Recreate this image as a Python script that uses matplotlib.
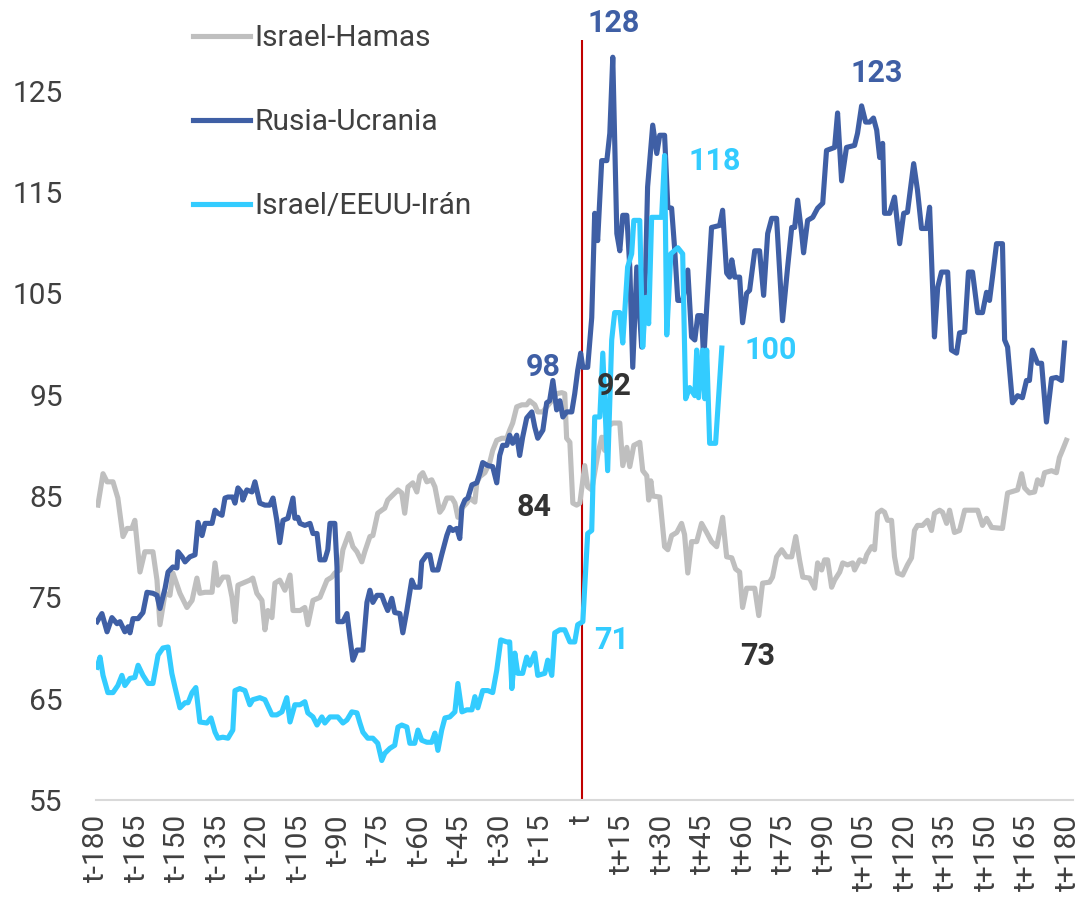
import numpy as np
import matplotlib
matplotlib.use("Agg")
import matplotlib.pyplot as plt

plt.rcParams['font.family'] = ['Roboto', 'DejaVu Sans']

# Datos (dias respecto a t, indice)
hamas_x = [-179.3, -177.4, -175.9, -173.7, -171.9, -170.0, -168.5, -166.7, -165.6, -163.7,
           -161.9, -158.9, -157.4, -156.3, -154.4, -152.6, -151.5, -148.9, -146.3, -144.4,
           -142.6, -141.5, -139.6, -137.0, -135.9, -134.8, -133.0, -131.1, -129.6, -128.5,
           -127.4, -124.8, -123.0, -121.9, -120.4, -118.5, -117.4, -116.3, -114.8, -113.7,
           -111.9, -110.0, -108.1, -107.0, -104.4, -102.6, -101.5, -99.6, -97.0, -94.4,
           -92.6, -91.5, -89.6, -88.5, -86.3, -84.8, -83.3, -81.5, -80.4, -78.5,
           -77.4, -75.6, -74.1, -73.0, -71.9, -70.0, -68.1, -66.7, -65.6, -64.4,
           -62.6, -61.1, -60.0, -58.9, -57.4, -55.6, -54.4, -52.6, -51.5, -50.0,
           -48.1, -47.0, -45.9, -44.4, -42.6, -41.5, -39.6, -38.9, -37.8, -35.9,
           -34.1, -33.0, -31.5, -29.6, -27.8, -26.7, -25.6, -24.1, -22.2, -20.4,
           -19.3, -17.4, -16.3, -14.4, -13.0, -11.1, -9.3, -7.4, -6.3, -5.6,
           -4.4, -3.3, -1.9, -0.7, 1.1, 2.2, 3.7, 5.9, 7.4, 8.5,
           9.3, 11.5, 14.1, 15.2, 16.7, 17.8, 19.3, 21.5, 22.6, 24.1,
           24.8, 25.6, 26.3, 28.9, 30.7, 31.9, 33.3, 35.2, 37.0, 38.1,
           39.3, 40.7, 42.6, 44.4, 46.3, 48.1, 50.0, 52.2, 53.7, 55.6,
           57.0, 58.5, 59.6, 61.1, 64.1, 65.6, 67.0, 69.6, 70.7, 72.2,
           74.1, 75.9, 77.8, 79.3, 80.7, 81.9, 84.4, 86.3, 87.4, 88.9,
           90.0, 91.1, 92.6, 93.7, 95.6, 96.7, 98.5, 100.4, 101.1, 103.0,
           104.8, 105.6, 107.4, 108.5, 109.6, 111.1, 112.2, 113.3, 114.8, 115.9,
           117.0, 118.9, 120.7, 122.2, 123.3, 124.4, 126.3, 128.1, 129.6, 130.7,
           132.6, 133.7, 135.2, 136.3, 138.1, 140.0, 141.9, 146.7, 148.5, 150.0,
           151.9, 155.9, 157.8, 161.5, 163.0, 164.1, 165.9, 167.8, 168.9, 170.4,
           171.5, 174.1, 175.9, 177.0, 178.1, 179.6]
hamas_y = [84.1, 87.2, 86.4, 86.4, 84.8, 81.0, 81.8, 81.8, 82.6, 77.5,
           79.5, 79.5, 76.7, 72.3, 75.4, 75.2, 77.4, 75.4, 74.0, 74.7,
           76.9, 75.4, 75.5, 75.5, 78.4, 76.2, 77.0, 77.0, 75.0, 72.6,
           76.2, 76.5, 76.7, 76.9, 75.4, 74.7, 71.8, 73.7, 73.0, 76.4,
           76.7, 75.7, 77.2, 73.7, 73.7, 74.0, 72.3, 74.7, 75.0, 76.7,
           77.0, 77.4, 77.7, 79.7, 81.3, 80.0, 79.5, 78.5, 79.5, 81.0,
           81.1, 83.3, 83.6, 83.8, 84.6, 85.1, 85.6, 85.3, 83.3, 85.9,
           86.3, 85.4, 87.0, 87.3, 86.4, 86.6, 85.9, 83.4, 83.8, 84.8,
           84.8, 84.3, 82.9, 83.8, 84.3, 84.8, 84.4, 86.3, 86.9, 87.3,
           88.3, 89.5, 90.5, 90.7, 90.7, 91.5, 92.2, 93.8, 94.0, 94.0,
           94.4, 94.0, 93.3, 93.3, 93.8, 94.4, 95.1, 95.2, 95.1, 90.7,
           90.3, 84.3, 84.1, 84.3, 88.0, 85.9, 85.6, 89.0, 90.8, 89.5,
           91.8, 92.2, 92.2, 88.0, 89.8, 87.9, 90.0, 90.3, 87.5, 87.0,
           84.6, 86.5, 85.0, 84.9, 80.0, 79.7, 81.1, 81.4, 82.3, 81.2,
           77.4, 80.5, 80.5, 82.3, 81.4, 80.5, 80.0, 82.9, 79.0, 78.9,
           77.8, 77.5, 74.0, 75.9, 75.9, 73.2, 76.4, 76.5, 77.0, 79.0,
           79.7, 79.0, 79.0, 81.0, 78.7, 77.0, 76.9, 75.9, 78.4, 77.7,
           78.7, 78.7, 76.0, 76.7, 77.5, 78.4, 78.2, 78.4, 77.7, 78.7,
           78.5, 79.2, 80.0, 79.7, 83.3, 83.6, 83.4, 82.6, 82.6, 79.0,
           77.4, 77.2, 78.2, 78.9, 81.6, 82.1, 82.1, 82.6, 81.6, 83.3,
           83.6, 83.4, 82.3, 83.6, 81.4, 81.6, 83.6, 83.6, 82.1, 82.8,
           81.9, 81.8, 85.3, 85.6, 87.2, 85.8, 85.3, 85.4, 86.6, 86.1,
           87.3, 87.5, 87.3, 88.8, 89.5, 90.5]

rusia_x = [-179.6, -177.8, -175.9, -174.1, -172.2, -171.1, -169.3, -168.1, -167.4, -166.3,
           -164.4, -162.6, -161.1, -158.9, -157.4, -156.3, -154.4, -153.3, -151.5, -150.0,
           -149.6, -148.1, -147.0, -145.2, -143.3, -142.2, -140.7, -139.6, -137.0, -135.9,
           -134.8, -133.3, -132.2, -131.1, -129.3, -128.5, -127.4, -125.9, -125.6, -124.1,
           -122.2, -121.1, -119.3, -117.4, -115.6, -114.4, -113.0, -111.9, -110.7, -108.9,
           -107.0, -106.3, -105.2, -104.4, -102.6, -100.7, -99.6, -98.1, -97.0, -95.2,
           -94.1, -93.3, -91.5, -90.7, -90.4, -88.5, -87.0, -85.9, -84.8, -83.3,
           -81.1, -79.6, -78.5, -77.4, -75.9, -74.1, -73.0, -71.9, -70.4, -69.3,
           -67.4, -66.3, -64.8, -63.0, -61.9, -60.0, -59.3, -57.4, -56.3, -55.2,
           -53.3, -51.9, -50.0, -48.9, -47.8, -46.3, -45.2, -44.4, -43.3, -42.2,
           -40.7, -38.9, -37.8, -36.7, -34.8, -33.0, -31.5, -30.4, -29.3, -27.8,
           -26.7, -25.6, -24.1, -23.0, -21.9, -20.4, -18.5, -17.4, -16.3, -14.4,
           -13.0, -11.9, -10.7, -9.3, -8.1, -7.0, -5.6, -3.7, -2.6, -1.5,
           -0.4, 0.4, 2.2, 3.7, 4.8, 5.9, 7.4, 9.3, 10.4, 11.5,
           13.0, 14.1, 15.2, 16.7, 17.8, 18.9, 20.4, 22.2, 23.7, 24.4,
           26.3, 27.8, 28.9, 30.7, 31.9, 33.3, 34.4, 35.6, 37.4, 39.3,
           40.7, 41.9, 43.0, 44.4, 45.2, 46.3, 48.1, 51.1, 52.2, 53.7,
           54.8, 55.6, 56.7, 58.5, 59.6, 61.1, 62.2, 64.1, 65.9, 67.4,
           68.9, 70.4, 72.2, 74.4, 76.3, 77.8, 78.9, 80.0, 81.5, 82.2,
           83.7, 85.6, 87.4, 89.3, 90.7, 93.7, 94.8, 96.3, 98.1, 101.1,
           102.2, 103.7, 105.2, 106.7, 108.1, 109.3, 110.4, 111.5, 112.2, 114.1,
           115.9, 117.8, 119.3, 120.7, 123.0, 124.4, 125.9, 127.8, 128.9, 130.7,
           131.9, 133.3, 135.6, 137.0, 138.9, 140.0, 141.9, 143.3, 144.8, 146.7,
           148.5, 150.0, 151.1, 152.2, 153.7, 155.9, 156.7, 157.8, 159.6, 161.5,
           163.3, 164.8, 165.9, 167.0, 168.9, 170.4, 172.2, 174.1, 175.9, 177.8,
           178.9]
rusia_y = [72.6, 73.4, 71.6, 73.0, 72.4, 72.6, 71.6, 72.1, 71.5, 72.9,
           72.9, 73.5, 75.5, 75.4, 75.2, 73.9, 75.9, 77.5, 78.0, 77.9,
           79.5, 79.0, 78.5, 79.0, 79.2, 82.4, 81.1, 82.3, 82.3, 83.6,
           83.3, 83.1, 84.8, 84.9, 84.9, 84.3, 85.8, 85.3, 84.6, 85.6,
           85.4, 86.4, 84.3, 84.1, 84.1, 84.8, 82.6, 80.4, 82.6, 82.8,
           84.8, 82.8, 82.9, 82.3, 82.1, 82.3, 81.3, 81.3, 78.7, 78.7,
           79.7, 82.3, 82.3, 78.0, 72.6, 72.6, 73.4, 71.0, 68.8, 69.8,
           69.8, 74.5, 75.7, 74.5, 75.2, 75.2, 74.4, 73.7, 74.9, 73.5,
           73.4, 71.5, 73.7, 76.7, 76.0, 76.0, 78.5, 79.2, 79.2, 77.7,
           77.7, 79.2, 81.1, 81.9, 81.6, 81.8, 80.8, 83.9, 84.6, 84.8,
           86.1, 86.3, 87.2, 88.3, 88.0, 87.9, 86.3, 89.0, 90.0, 90.0,
           91.0, 90.2, 91.0, 89.0, 90.8, 92.7, 93.3, 91.8, 90.7, 91.5,
           94.2, 94.4, 96.4, 93.5, 94.4, 92.8, 93.3, 93.3, 95.1, 97.4,
           99.1, 97.7, 97.7, 102.6, 112.9, 110.2, 118.1, 118.1, 120.8, 128.3,
           110.9, 109.2, 112.7, 112.7, 107.6, 97.7, 107.6, 99.7, 107.6, 115.5,
           121.6, 118.8, 120.6, 120.6, 113.5, 113.4, 109.5, 104.3, 104.3, 107.3,
           100.7, 100.4, 102.8, 102.8, 98.4, 103.6, 111.5, 111.7, 113.2, 107.0,
           106.6, 108.3, 106.6, 106.6, 102.1, 105.0, 105.3, 109.2, 109.2, 104.8,
           110.9, 112.4, 112.4, 102.3, 107.6, 111.5, 111.5, 114.2, 110.9, 109.0,
           112.2, 112.5, 113.4, 113.9, 119.1, 119.4, 122.8, 116.1, 119.4, 119.6,
           120.8, 123.5, 121.9, 121.9, 122.3, 121.1, 118.4, 119.8, 112.9, 112.9,
           114.5, 109.9, 112.9, 113.0, 117.8, 115.2, 111.4, 111.4, 113.5, 100.7,
           105.6, 107.1, 107.1, 99.4, 99.1, 101.1, 101.2, 107.1, 107.1, 103.1,
           103.1, 105.1, 104.3, 106.6, 109.9, 109.9, 100.4, 99.7, 94.2, 94.9,
           94.7, 96.4, 96.4, 99.4, 98.1, 98.1, 92.3, 96.6, 96.7, 96.4,
           100.1]

iran_x = [-179.6, -178.5, -177.4, -175.6, -173.7, -171.9, -170.4, -169.3, -167.4, -165.6,
          -164.4, -162.6, -160.7, -158.9, -157.0, -155.2, -153.3, -151.9, -150.7, -148.9,
          -147.0, -145.9, -144.4, -143.0, -141.5, -138.9, -137.4, -135.9, -134.8, -133.0,
          -131.1, -129.3, -128.5, -126.7, -124.8, -123.0, -121.9, -119.3, -117.4, -114.8,
          -113.0, -111.1, -109.3, -108.1, -106.3, -104.4, -102.6, -101.5, -99.6, -98.1,
          -96.3, -95.2, -93.3, -90.4, -88.5, -87.0, -85.2, -83.3, -82.2, -81.1,
          -79.3, -77.4, -75.6, -74.1, -73.0, -71.1, -69.3, -68.1, -66.7, -64.8,
          -63.7, -61.9, -60.7, -59.3, -57.4, -55.6, -54.4, -53.3, -51.9, -50.7,
          -48.9, -47.0, -45.9, -44.4, -42.6, -40.7, -39.6, -38.5, -36.7, -34.8,
          -33.0, -31.5, -30.0, -27.8, -26.7, -25.9, -24.8, -23.7, -21.9, -20.4,
          -19.3, -17.4, -16.3, -13.7, -12.6, -11.1, -10.0, -8.1, -6.3, -4.4,
          -2.6, -1.5, 0.4, 2.2, 3.7, 4.8, 6.7, 7.8, 9.6, 11.1,
          12.2, 14.1, 15.2, 17.0, 18.5, 19.3, 21.5, 22.6, 23.7, 24.8,
          25.9, 29.6, 30.7, 31.5, 33.0, 35.6, 37.4, 38.5, 40.0, 41.9,
          42.6, 43.3, 44.8, 45.6, 46.3, 47.4, 49.6, 51.9]
iran_y = [68.1, 69.1, 67.3, 65.6, 65.6, 66.3, 67.3, 66.3, 67.0, 67.1,
          68.3, 67.3, 66.5, 66.5, 69.3, 70.0, 70.1, 67.5, 66.1, 64.1,
          64.6, 64.6, 65.6, 66.1, 62.7, 62.6, 63.1, 61.7, 61.1, 61.2,
          61.1, 61.9, 65.8, 66.0, 65.8, 64.4, 64.9, 65.1, 64.9, 63.4,
          63.4, 63.7, 65.1, 62.7, 64.4, 64.4, 64.7, 63.6, 63.2, 62.4,
          63.2, 62.6, 63.2, 63.2, 62.6, 62.9, 63.7, 63.6, 62.6, 61.7,
          61.1, 61.1, 60.6, 58.9, 59.6, 60.1, 60.4, 62.2, 62.4, 62.2,
          60.6, 60.6, 61.9, 60.9, 60.7, 60.7, 61.6, 59.9, 61.9, 63.1,
          63.2, 63.7, 66.5, 63.7, 63.9, 63.9, 65.2, 64.1, 65.8, 65.8,
          65.6, 67.8, 70.8, 70.6, 70.6, 66.0, 69.5, 67.5, 67.5, 69.1,
          68.3, 69.5, 67.3, 67.5, 68.8, 67.3, 71.5, 71.8, 71.8, 70.6,
          70.6, 72.3, 72.6, 81.3, 81.6, 92.8, 92.8, 99.1, 87.5, 100.4,
          103.1, 103.1, 100.1, 107.6, 108.9, 112.2, 112.2, 99.7, 104.6, 102.0,
          112.5, 112.5, 118.6, 100.9, 108.9, 109.5, 108.9, 94.6, 95.7, 94.9,
          99.4, 94.7, 99.4, 94.6, 99.4, 90.2, 90.2, 99.6]

tick_pos = list(range(-180, 181, 15))
tick_lab = ["t" if p == 0 else f"t{p:+d}" for p in tick_pos]

gray = "#BFBFBF"
blue = "#3F5FA5"
cyan = "#33CCFF"
dark = "#333333"

fig = plt.figure(figsize=(10.81, 9.05), dpi=100)
ax = fig.add_axes([0.0888, 0.116, 0.9037, 0.8398])

ax.plot(hamas_x, hamas_y, color=gray, lw=3.7, label="Israel-Hamas", solid_joinstyle="round")
ax.plot(rusia_x, rusia_y, color=blue, lw=3.7, label="Rusia-Ucrania", solid_joinstyle="round")
ax.plot(iran_x, iran_y, color=cyan, lw=3.7, label="Israel/EEUU-Irán", solid_joinstyle="round")
ax.axvline(0, color="#C00000", lw=1.5, zorder=1)

ax.set_xlim(-180, 182)
ax.set_ylim(55, 130)
ax.set_yticks(range(55, 126, 10))
ax.set_xticks(tick_pos)
ax.set_xticklabels(tick_lab, rotation=90)
ax.tick_params(axis="both", length=0, labelsize=21.5, labelcolor="#404040")
ax.tick_params(axis="y", pad=24)
ax.tick_params(axis="x", pad=10)
for s in ["top", "right", "left"]:
    ax.spines[s].set_visible(False)
ax.spines["bottom"].set_color("#D9D9D9")
ax.spines["bottom"].set_linewidth(1.5)

# etiquetas de valores
notes = [("128", 11.9, 131.7, blue), ("123", 109.3, 126.7, blue), ("98", -14.4, 97.7, blue),
         ("118", 49.3, 118.1, cyan), ("100", 70.0, 99.4, cyan), ("71", 11.1, 70.8, cyan),
         ("92", 11.9, 95.9, dark), ("84", -17.8, 83.9, dark), ("73", 65.2, 69.2, dark)]
for txt, x, y, c in notes:
    ax.text(x, y, txt, color=c, fontsize=22, fontweight="bold", ha="center", va="center",
            clip_on=False)

leg = ax.legend(loc="upper left", bbox_to_anchor=(0.1785, 0.9735), bbox_transform=fig.transFigure,
                frameon=False, fontsize=21.5, handlelength=1.9, handletextpad=0.15,
                labelspacing=1.88, borderpad=0, borderaxespad=0)
for t in leg.get_texts():
    t.set_color("#404040")

fig.savefig("out.png", dpi=100)
